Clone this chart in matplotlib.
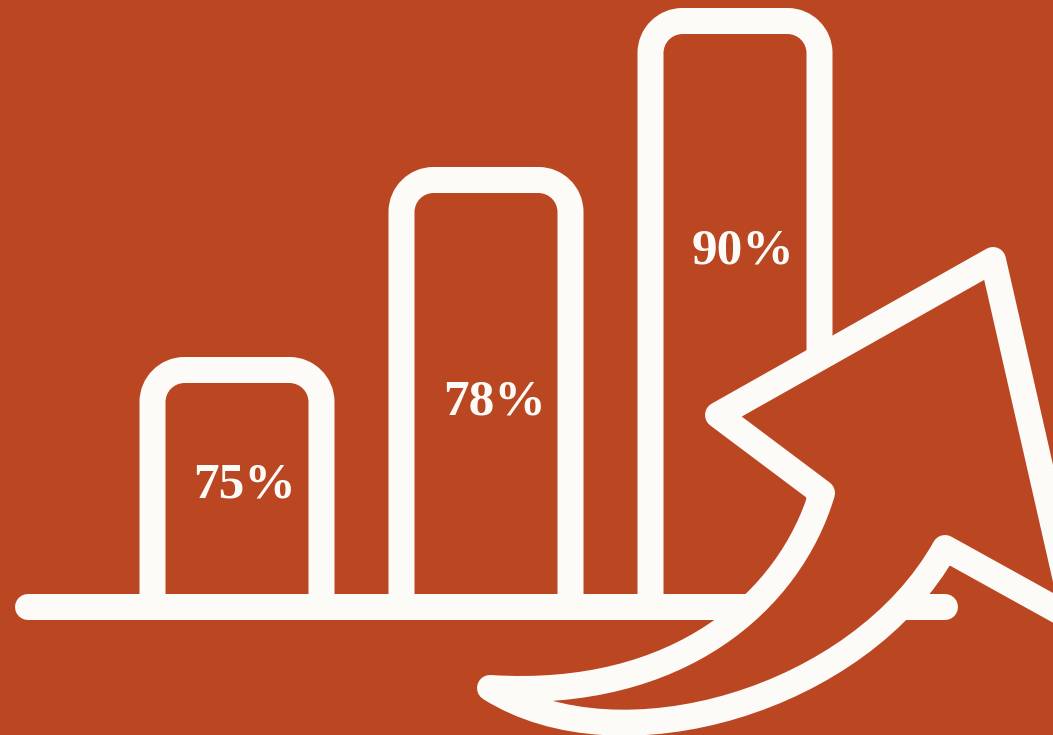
import numpy as np
import matplotlib
matplotlib.use("Agg")
import matplotlib.pyplot as plt
from matplotlib.path import Path
from matplotlib.patches import PathPatch

# data
labels = ['75%', '78%', '90%']
values = [75, 78, 90]
bar_x = [237, 486, 735]          # bar centres
bar_heights = [237, 427, 586]    # drawn height of each bar (icon units)
label_y = [121, 205, 356]

bg = '#BA4722'
fg = '#FDFBF8'
lw = 26 * 72 / 100.0   # 26 px stroke

fig = plt.figure(figsize=(10.53, 7.35), dpi=100)
fig.patch.set_facecolor(bg)
ax = fig.add_axes([0, 0, 1, 1])
ax.set_facecolor(bg)
ax.set_xlim(0, 1053)
ax.set_ylim(-128, 607)
ax.axis('off')

# baseline
ax.plot([28, 945], [0, 0], color=fg, lw=lw, solid_capstyle='round', zorder=2)

# bars: open at the bottom, rounded top corners
width = 169
r = 32
k = 0.5523 * r
for x, h in zip(bar_x, bar_heights):
    x0, x1 = x - width / 2, x + width / 2
    verts = [(x0, 0), (x0, h - r),
             (x0, h - r + k), (x0 + r - k, h), (x0 + r, h),
             (x1 - r, h),
             (x1 - r + k, h), (x1, h - r + k), (x1, h - r),
             (x1, 0)]
    codes = [Path.MOVETO, Path.LINETO,
             Path.CURVE4, Path.CURVE4, Path.CURVE4,
             Path.LINETO,
             Path.CURVE4, Path.CURVE4, Path.CURVE4,
             Path.LINETO]
    ax.add_patch(PathPatch(Path(verts, codes), fill=False, edgecolor=fg,
                           lw=lw, capstyle='butt', joinstyle='round', zorder=2))

# curved arrow outline
verts = [(490, -81),
         (680, -93), (790, 7), (822, 114),
         (718, 192),
         (993, 347),
         (1075, -13),
         (945, 59),
         (860, -93), (620, -163), (490, -81),
         (490, -81)]
codes = [Path.MOVETO,
         Path.CURVE4, Path.CURVE4, Path.CURVE4,
         Path.LINETO, Path.LINETO, Path.LINETO, Path.LINETO,
         Path.CURVE4, Path.CURVE4, Path.CURVE4,
         Path.CLOSEPOLY]
ax.add_patch(PathPatch(Path(verts, codes), facecolor=bg, edgecolor=fg,
                       lw=lw, joinstyle='round', zorder=3))

# labels
for x, y, t in zip(bar_x, label_y, labels):
    ax.text(x + 8, y, t, color=fg, fontsize=37, fontweight='bold',
            family='Liberation Serif', ha='center', va='center', zorder=4)

fig.savefig('out.png', dpi=100, facecolor=bg)
